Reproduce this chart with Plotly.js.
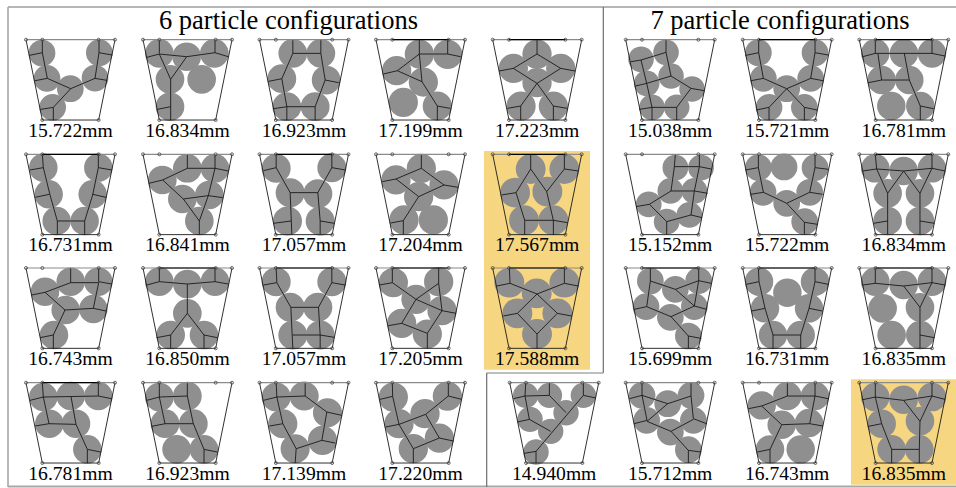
<!DOCTYPE html>
<html><head><meta charset="utf-8">
<script src="https://cdn.plot.ly/plotly-3.0.1.min.js"></script>
<style>html,body{margin:0;padding:0;background:#fff}#c{width:956px;height:488px}</style>
</head><body><div id="c"></div>
<script>
const diameters=[15.722,16.834,16.923,17.199,17.223,15.038,15.721,16.781,
16.731,16.841,17.057,17.204,17.567,15.152,15.722,16.834,
16.743,16.850,17.057,17.205,17.588,15.699,16.731,16.835,
16.781,16.923,17.139,17.220,14.940,15.712,16.743,16.835];
const panelX=[26,143,259.5,376,492.7,625.7,742.7,859.3,
26,143,259.5,376,492.7,625.7,742.7,859.3,
26,143,259.5,376,492.7,625.7,742.7,859.3,
26,143,259.5,376,509.7,625.7,742.7,859.3];
const rowY=[39.7,154.3,268,382.7];
const darkTop=[0,0,0,1,1,0,1,1, 1,0,1,0,1,0,0,1, 0,1,1,1,1,1,1,1, 1,0,0,0,0,0,0,0];
const circles=[
[[48,40],[63,116],[133,147],[207,115],[220,39],[80,203]],
[[49,41],[131,51],[214,41],[81,119],[176,119],[81,201]],
[[100,41],[184,41],[67,117],[200,121],[82,201],[167,201]],
[[130,43],[215,44],[62,93],[142,127],[82,188],[184,199]],
[[133,43],[62,86],[204,86],[133,129],[85,199],[182,199]],
[[46,59],[121,38],[63,131],[136,109],[79,203],[153,203],[199,148]],
[[47,39],[62,116],[132,147],[204,116],[217,39],[79,203],[185,203]],
[[48,41],[134,41],[218,41],[67,121],[150,121],[96,199],[183,199]],
[[52,40],[68,120],[92,200],[176,200],[200,120],[217,40]],
[[58,77],[133,42],[216,42],[118,134],[199,122],[169,200]],
[[50,42],[92,115],[175,118],[84,200],[182,200],[217,40]],
[[136,42],[60,77],[204,92],[128,127],[84,197],[172,197]],
[[114,44],[215,44],[67,115],[164,112],[94,198],[182,198]],
[[149,40],[226,40],[134,110],[206,110],[69,150],[123,202],[191,182]],
[[47,40],[124,38],[217,40],[61,114],[201,114],[132,147],[186,202]],
[[48,42],[133,50],[218,42],[85,117],[182,117],[85,200],[182,200]],
[[57,71],[134,41],[217,41],[119,126],[202,123],[84,201]],
[[49,41],[133,48],[216,41],[133,136],[83,201],[183,201]],
[[50,41],[92,118],[175,118],[100,201],[182,201],[217,41]],
[[52,44],[188,41],[120,94],[198,128],[77,166],[154,198]],
[[50,44],[132,76],[215,44],[74,136],[194,136],[133,198]],
[[74,39],[149,64],[219,38],[61,116],[206,116],[134,148],[188,204]],
[[49,41],[134,74],[217,41],[67,121],[199,121],[91,201],[174,201]],
[[48,41],[133,51],[218,41],[70,121],[182,118],[97,201],[183,201]],
[[52,43],[134,40],[217,40],[70,123],[150,123],[184,200]],
[[49,43],[133,40],[66,123],[151,123],[101,200],[183,200]],
[[50,43],[134,40],[70,123],[107,198],[204,90],[189,173]],
[[52,43],[214,40],[147,93],[69,123],[190,166],[112,198]],
[[48,38],[119,38],[221,38],[61,110],[169,90],[123,146],[79,208]],
[[49,38],[126,63],[196,38],[63,113],[203,113],[134,148],[188,201]],
[[57,68],[134,40],[217,40],[117,126],[199,121],[82,200],[174,200]],
[[48,43],[133,51],[218,43],[67,123],[182,115],[97,200],[180,200]]
];
const links=[
[[49,0,49,39,64,116,134,147,207,116,219,39,219,0],[49,39,10,47],[64,116,27,123],[207,116,243,122],[219,39,259,46],[134,147,82,203,44,209],[82,203,82,241]],
[[49,0,49,41],[11,53,49,43,131,51,216,39,256,51],[216,0,216,39],[49,43,83,119,131,51],[83,119,83,241],[83,201,43,209]],
[[100,0,100,41,184,41,197,121,167,201,82,201,67,117,100,41],[67,117,27,125],[82,201,42,207],[82,201,82,241],[167,201,167,241],[197,121,238,129],[184,0,184,41]],
[[130,0,130,43,215,43,254,51],[215,0,215,43],[130,43,64,93,22,103],[130,43,138,126,64,93],[138,126,184,199,222,206],[184,199,184,241]],
[[133,0,133,43,204,86,133,131,62,86,133,43],[62,86,19,94],[204,86,247,94],[133,131,84,199,44,206],[84,199,84,241],[133,131,182,199,224,206],[182,199,182,241]],
[[121,0,121,38,136,109,196,146,236,153],[121,38,46,61,16,66],[46,61,63,131,29,139],[63,131,79,203,153,203,196,146],[79,203,41,209],[79,203,79,241],[153,203,153,241],[136,109,63,131]],
[[48,0,48,39,62,116,132,147,204,116,217,39,217,0],[48,39,9,47],[62,116,25,123],[204,116,241,123],[217,39,257,46],[132,147,79,203,41,211],[79,203,79,241],[132,147,185,203,224,211],[185,203,185,241]],
[[48,0,48,41,218,41,257,49],[218,0,218,41],[48,41,10,51],[56,43,67,121,150,121,135,41],[67,121,27,129],[150,121,183,199,223,207],[183,199,183,241]],
[[49,0,52,40,72,122,94,200,176,200,200,122,217,40,217,0],[52,40,12,47],[70,120,28,129],[200,120,240,129],[217,40,257,47],[94,200,94,240],[176,200,176,240]],
[[133,0,133,42,216,42,256,50],[216,0,216,42,196,124,239,130],[133,42,59,77,18,87],[59,77,121,134,196,124,169,200,121,134],[169,200,169,240]],
[[50,0,50,40,12,49],[50,40,92,115,175,115,217,40,217,0],[217,40,257,47],[92,115,97,240],[175,115,182,200,182,240],[182,200,224,207],[95,200,42,207]],
[[136,0,136,42,204,92,128,127,60,74,136,42],[60,74,19,82],[204,92,246,99],[128,127,82,199,44,206],[82,199,82,240]],
[[114,0,114,44,162,112,215,44,257,50],[215,0,215,44],[114,44,70,115,27,122],[70,115,96,198,182,198,162,112],[96,198,96,240],[182,198,224,205],[182,198,182,240]],
[[149,0,146,37,221,37,256,44],[221,0,221,37],[146,37,136,110,206,110,221,37],[136,110,71,150,31,157],[71,150,123,202,196,182,206,110],[123,202,123,240],[196,182,229,190],[206,110,246,117]],
[[47,0,47,40,62,114,132,147,201,114,217,40,217,0],[47,40,9,47],[62,114,24,120],[201,114,239,120],[217,40,257,45],[132,147,185,204,224,210],[185,204,185,240]],
[[48,0,52,44,133,50,218,42,218,0],[52,44,10,50],[218,42,257,50],[52,44,85,117,133,50,182,117,218,42],[85,117,85,240],[182,117,182,240],[85,200,43,207],[182,200,225,207]],
[[218,0,218,41,257,48],[134,0,134,44,218,44,202,121,240,129],[134,44,57,73,17,81],[57,73,117,126,202,121],[117,126,82,201,42,209],[82,201,82,241]],
[[49,0,49,41,133,48,216,41,216,0],[49,41,11,51],[216,41,256,48],[133,48,133,136,83,201,41,209],[83,201,83,241],[133,136,183,201,223,209],[183,201,183,241]],
[[50,0,52,44,12,51],[52,44,94,118,177,118,217,44,217,0],[217,44,257,51],[94,118,100,241],[177,118,182,201,182,241],[100,201,182,201,224,208]],
[[49,0,49,44,10,51],[49,44,120,94,198,128,240,136],[188,0,188,46,120,94,77,166,37,173],[188,46,198,128,154,196,77,166],[154,196,154,241]],
[[50,0,52,46,12,54],[52,46,133,78,215,46,257,54],[215,0,215,46],[133,78,74,136,133,198,194,136,133,78],[74,136,32,144],[194,136,237,144],[133,198,133,241]],
[[74,0,74,39,63,116,136,146,206,114,219,38,219,0],[74,39,149,64,206,114,243,124],[149,64,219,38,256,46],[63,116,25,124],[136,146,188,204,226,211],[188,204,188,241]],
[[47,0,49,41,67,121,91,201,174,201,199,121,217,41,217,0],[49,41,11,49],[67,121,27,129],[199,121,239,129],[217,41,257,49],[91,201,91,241],[174,201,174,241]],
[[48,0,48,46,10,51],[48,46,133,54,218,44,257,51],[218,0,218,44,182,118,133,54],[182,118,182,241],[182,201,225,209]],
[[49,0,52,43,217,40,257,48],[217,0,217,40],[52,43,12,53],[52,43,69,123,150,125,135,42],[69,123,27,130],[150,125,184,200,224,208],[184,200,184,241]],
[[49,0,49,43,133,40,133,0],[49,43,11,53],[49,43,66,123,151,123,133,40],[66,123,26,131],[151,123,183,200,223,208],[183,200,183,241]],
[[50,0,52,43,12,53],[52,43,137,40,137,0],[52,43,70,123,110,198,107,241],[70,123,30,130],[110,198,187,173,227,181],[137,40,202,88,247,98],[202,88,187,173]],
[[49,0,50,41,12,50],[50,41,69,125,112,198,190,166,232,175],[217,0,217,40,257,50],[217,40,149,95,69,125],[149,95,190,166],[69,125,29,133],[112,198,112,241]],
[[48,0,46,40,119,38,119,0],[46,40,11,48],[46,40,59,110,123,146],[59,110,23,118],[119,38,169,90],[221,0,221,38,259,46],[221,38,79,206,43,212],[79,206,79,241]],
[[49,0,49,38,126,63,196,40,196,0],[196,40,203,108,243,123],[49,38,11,48],[49,38,64,113,25,123],[126,63,64,116,136,146,203,110],[136,146,188,203,226,208],[188,203,188,241]],
[[134,0,134,40,217,40,257,48],[217,0,217,40,201,123,241,130],[134,40,57,70,17,78],[57,70,117,126,201,123],[117,126,82,200,44,208],[82,200,82,241]],
[[48,0,48,43,10,51],[48,43,133,53,218,40,257,50],[218,0,218,40,182,116,133,53],[182,116,180,200,97,200,67,123,48,43],[67,123,27,131],[97,200,97,241],[180,200,180,241]]
];
const containerTop=[[0,0],[49,0],[218,0],[267,0]];
const containerBottom=[[49,241],[218,241]];
const headings=["6 particle configurations","7 particle configurations"];

const S=1/3,shapes=[];
const px=(i,lx)=>panelX[i]+lx*S, py=(i,ly)=>rowY[Math.floor(i/8)]+ly*S;
const rect=(x0,y0,x1,y1,c)=>({type:'rect',xref:'x',yref:'y',x0,y0,x1,y1,fillcolor:c,line:{width:0},layer:'below'});
const seg=(x0,y0,x1,y1,c,w)=>({type:'line',xref:'x',yref:'y',x0,y0,x1,y1,line:{color:c,width:w},layer:'above'});
shapes.push(rect(484,151,590,369.7,'#f6d680'));
shapes.push(rect(851,379.3,956,484.7,'#f6d680'));
const frame='#6e6e6e',frame2='#a8a8a8';
shapes.push(seg(8,7,956,7,frame,1.2),seg(8,7,8,487,frame2,1.6),seg(8,486.5,956,486.5,frame2,1.8),
 seg(603.3,7,603.3,373,frame,1.2),seg(486.7,373,603.3,373,frame2,1.4),seg(486.7,373,486.7,487,frame,1.2));
const traces=[];
diameters.forEach((d,i)=>{
  const r=d*2.55*S;
  circles[i].forEach(([cx,cy])=>{const X=px(i,cx),Y=py(i,cy);
    shapes.push({type:'circle',xref:'x',yref:'y',x0:X-r,x1:X+r,y0:Y-r,y1:Y+r,fillcolor:'#8f8f8f',line:{width:0},layer:'below'});});
  const lx=[],ly=[];
  links[i].forEach(pl=>{for(let k=0;k<pl.length;k+=2){lx.push(px(i,pl[k]));ly.push(py(i,pl[k+1]));}lx.push(null);ly.push(null);});
  [[containerTop[0],containerBottom[0]],[containerTop[3],containerBottom[1]],[containerBottom[0],containerBottom[1]]].forEach(([a,b])=>{
    lx.push(px(i,a[0]),px(i,b[0]),null);ly.push(py(i,a[1]),py(i,b[1]),null);});
  traces.push({x:lx,y:ly,mode:'lines',line:{color:'#1a1a1a',width:0.9},hoverinfo:'skip'});
  traces.push({x:[containerTop[0],containerTop[3]].map(p=>px(i,p[0])),y:[0,0].map(()=>py(i,0)),mode:'lines',line:{color:'#8a8a8a',width:1.2},hoverinfo:'skip'});
  if(darkTop[i])traces.push({x:[containerTop[1],containerTop[2]].map(p=>px(i,p[0])),y:[0,0].map(()=>py(i,0)),mode:'lines',line:{color:'#000',width:1.2},hoverinfo:'skip'});
  const pts=containerTop.concat(containerBottom);
  traces.push({x:pts.map(p=>px(i,p[0])),y:pts.map(p=>py(i,p[1])),mode:'markers',marker:{symbol:'circle-open',size:3,color:'#444',line:{width:0.8,color:'#444'}},hoverinfo:'skip'});
});
traces.push({x:diameters.map((d,i)=>px(i,133.5)),y:diameters.map((d,i)=>py(i,276)),text:diameters.map(d=>d.toFixed(3)+'mm'),mode:'text',
  textposition:'middle center',textfont:{family:'"Liberation Serif",serif',size:19.6,color:'#000'},hoverinfo:'skip'});
traces.push({x:[288.5,780],y:[22.5,22.5],text:headings,mode:'text',textposition:'middle center',
  textfont:{family:'"Liberation Serif",serif',size:26.5,color:'#000'},hoverinfo:'skip'});
Plotly.newPlot('c',traces,{width:956,height:488,margin:{l:0,r:0,t:0,b:0},showlegend:false,paper_bgcolor:'#fff',plot_bgcolor:'#fff',
  xaxis:{range:[0,956],visible:false,fixedrange:true},yaxis:{range:[488,0],visible:false,fixedrange:true},shapes},
  {staticPlot:true,displayModeBar:false});
</script></body></html>
